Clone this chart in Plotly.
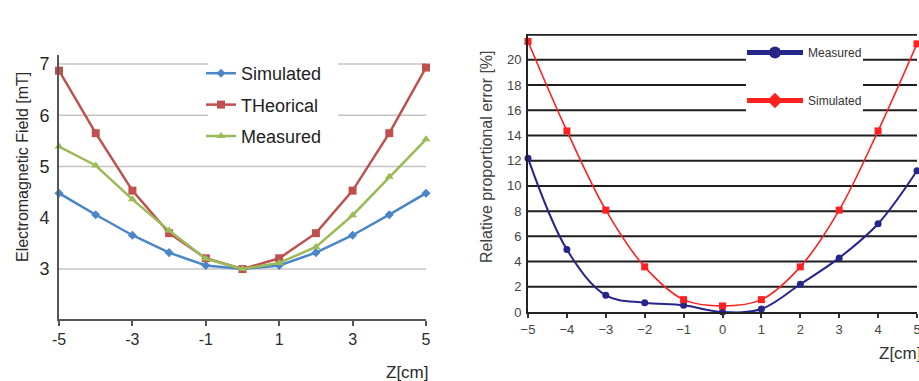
import plotly.graph_objects as go

W, H = 919, 381

# ---------------- data: left chart ----------------
z_left = [-5, -4, -3, -2, -1, 0, 1, 2, 3, 4, 5]
field_simulated = [4.48, 4.06, 3.66, 3.32, 3.07, 3.0, 3.07, 3.32, 3.66, 4.06, 4.48]
field_theorical = [6.87, 5.65, 4.53, 3.70, 3.21, 3.0, 3.21, 3.70, 4.53, 5.65, 6.93]
field_measured = [5.39, 5.02, 4.36, 3.75, 3.20, 3.0, 3.12, 3.43, 4.05, 4.80, 5.53]
left_xticks = [-5, -3, -1, 1, 3, 5]
left_yticks = [3, 4, 5, 6, 7]
left_gridlines = [3, 5, 6, 7]

# ---------------- data: right chart ----------------
z_right = [-5, -4, -3, -2, -1, 0, 1, 2, 3, 4, 5]
err_measured = [12.2, 4.95, 1.32, 0.74, 0.53, 0.0, 0.24, 2.2, 4.29, 7.0, 11.2]
err_simulated = [21.46, 14.36, 8.08, 3.58, 0.98, 0.48, 0.98, 3.58, 8.08, 14.36, 21.27]
right_xticks = [-5, -4, -3, -2, -1, 0, 1, 2, 3, 4, 5]
right_yticks = [0, 2, 4, 6, 8, 10, 12, 14, 16, 18, 20]
right_gridlines = [2, 4, 6, 8, 10, 12, 14, 16, 18, 20, 22]

OFF = 0  # body margin is removed by the post script below


def px(x):
    return (x - OFF) / W


def py(y):
    return 1 - (y - OFF) / H


FONT = "Liberation Sans, Arial, sans-serif"
NAVY = "#26268a"
RED = "#ff2020"

fig = go.Figure()

# left traces
fig.add_trace(go.Scatter(
    x=z_left, y=field_simulated, name="Simulated", mode="lines+markers",
    line=dict(color="#4a86c8", width=2.5), marker=dict(symbol="diamond", size=7, color="#4a86c8"),
    xaxis="x", yaxis="y", legend="legend", legendgroup="a", cliponaxis=False))
fig.add_trace(go.Scatter(
    x=z_left, y=field_theorical, name="THeorical", mode="lines+markers",
    line=dict(color="#c0504d", width=2.5), marker=dict(symbol="square", size=8, color="#c0504d"),
    xaxis="x", yaxis="y", legend="legend", legendgroup="b", cliponaxis=False))
fig.add_trace(go.Scatter(
    x=z_left, y=field_measured, name="Measured", mode="lines+markers",
    line=dict(color="#9bbb59", width=2.5), marker=dict(symbol="triangle-up", size=8, color="#9bbb59"),
    xaxis="x", yaxis="y", legend="legend", legendgroup="c", cliponaxis=False))

# right traces
fig.add_trace(go.Scatter(
    x=z_right, y=err_measured, name="Measured", mode="lines+markers",
    line=dict(color=NAVY, width=2, shape="spline", smoothing=1),
    marker=dict(symbol="circle", size=7, color=NAVY),
    xaxis="x2", yaxis="y2", legend="legend2", legendgroup="d", cliponaxis=False))
# simulated: line (legend shows a diamond symbol) + square point markers
fig.add_trace(go.Scatter(
    x=z_right, y=err_simulated, name="Simulated", mode="lines+markers",
    line=dict(color=RED, width=1.6, shape="spline", smoothing=1),
    marker=dict(symbol="diamond", size=0.1, color=RED),
    xaxis="x2", yaxis="y2", legend="legend2", legendgroup="e", cliponaxis=False))
fig.add_trace(go.Scatter(
    x=z_right, y=err_simulated, name="Simulated", mode="markers", showlegend=False,
    marker=dict(symbol="square", size=7, color=RED),
    xaxis="x2", yaxis="y2", legend="legend2", legendgroup="e", cliponaxis=False))

shapes = []
for g in left_gridlines:
    shapes.append(dict(type="line", xref="x domain", x0=0, x1=1, yref="y", y0=g, y1=g,
                       line=dict(color="#c4c4c4", width=1.5), layer="below"))
for g in right_gridlines:
    shapes.append(dict(type="line", xref="x2 domain", x0=0, x1=1, yref="y2", y0=g, y1=g,
                       line=dict(color="#1e1e1e", width=2), layer="below"))
# white boxes behind the legends hiding the gridlines
shapes.append(dict(type="rect", xref="paper", yref="paper",
                   x0=px(208), x1=px(338), y0=py(150), y1=py(56),
                   fillcolor="white", line=dict(width=0), layer="below"))
shapes.append(dict(type="rect", xref="paper", yref="paper",
                   x0=px(746), x1=px(863), y0=py(121), y1=py(46),
                   fillcolor="white", line=dict(width=0), layer="below"))

annotations = [
    dict(text="Electromagnetic Field [mT]", x=px(22), y=py(167), xref="paper", yref="paper",
         xanchor="center", yanchor="middle",
         textangle=-90, showarrow=False, font=dict(size=16, color="#2a2a2a", family=FONT)),
    dict(text="Z[cm]", x=px(407), y=py(372), xref="paper", yref="paper",
         xanchor="center", yanchor="middle",
         showarrow=False, font=dict(size=17, color="#2a2a2a", family=FONT)),
    dict(text="Relative proportional error [%]", x=px(486), y=py(157), xref="paper", yref="paper",
         xanchor="center", yanchor="middle",
         textangle=-90, showarrow=False, font=dict(size=16, color="#444444", family=FONT)),
    dict(text="Z[cm]", x=px(877), y=py(353), xref="paper", yref="paper",
         xanchor="left", yanchor="middle",
         showarrow=False, font=dict(size=17, color="#333333", family=FONT)),
]

fig.update_layout(
    width=W, height=H,
    margin=dict(l=0, r=0, t=0, b=0, autoexpand=False),
    paper_bgcolor="white", plot_bgcolor="white",
    font=dict(family=FONT, color="#2a2a2a"),
    shapes=shapes,
    annotations=annotations,
    xaxis=dict(domain=[px(59), px(426)], range=[-5, 5], tickvals=left_xticks,
               ticktext=[str(v) for v in left_xticks], automargin=False,
               showgrid=False, zeroline=False, showline=True, linecolor="#555555", linewidth=2,
               ticks="outside", ticklen=5, tickcolor="#555555", tickwidth=1.5,
               tickfont=dict(size=16, color="#2a2a2a"), anchor="y"),
    yaxis=dict(domain=[py(319), py(55)], range=[2.026, 7.175], tickvals=left_yticks,
               showgrid=False, zeroline=False, showline=True, linecolor="#555555", linewidth=2,
               automargin=False,
               ticks="", tickfont=dict(size=18, color="#2a2a2a"), ticklabelstandoff=4, anchor="x"),
    xaxis2=dict(domain=[px(528), px(917)], range=[-5, 5], tickvals=right_xticks,
                showgrid=False, zeroline=False, showline=True, linecolor="#222222", linewidth=2,
                automargin=False, ticklabeloverflow="allow",
                ticks="outside", ticklen=4, tickcolor="#333333", tickwidth=1.5,
                tickfont=dict(size=13, color="#444444"), anchor="y2"),
    yaxis2=dict(domain=[py(312), py(34)], range=[0, 22.05], tickvals=right_yticks,
                showgrid=False, zeroline=False, automargin=False,
                showline=True, linecolor="#222222", linewidth=2,
                ticks="", tickfont=dict(size=13, color="#444444"), ticklabelstandoff=2, anchor="x2"),
    legend=dict(x=px(201), y=py(55), xanchor="left", yanchor="top", bgcolor="rgba(0,0,0,0)",
                font=dict(size=18, color="#222222"), itemwidth=30, tracegroupgap=5,
                traceorder="grouped", itemsizing="trace"),
    legend2=dict(x=px(742), y=py(38), xanchor="left", yanchor="top", bgcolor="rgba(0,0,0,0)",
                 font=dict(size=12, color="#333333"), itemwidth=56, tracegroupgap=29,
                 traceorder="grouped", itemsizing="constant"),
)

fig.write_html("out.html",
               config={"displayModeBar": False},
               post_script="document.body.style.margin='0';document.body.style.overflow='hidden';")
